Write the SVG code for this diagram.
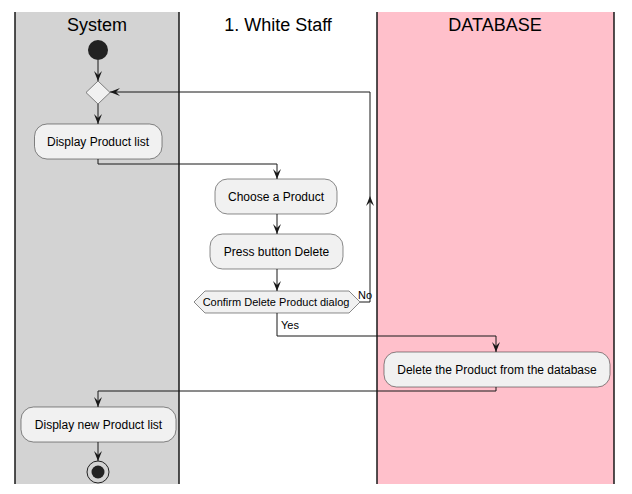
<svg xmlns="http://www.w3.org/2000/svg" width="632" height="494" viewBox="0 0 632 494">
<style>
.lane{stroke:#181818;stroke-width:1.5}
.hdr{font-family:"Liberation Sans",Arial,sans-serif;font-size:18px;fill:#000;text-anchor:middle}
.box{fill:#F1F1F1;stroke:#181818;stroke-width:0.5}
.t{font-family:"Liberation Sans",Arial,sans-serif;font-size:12px;fill:#000;text-anchor:middle}
.ts{font-family:"Liberation Sans",Arial,sans-serif;font-size:11px;fill:#000;text-anchor:middle}
.lbl{font-family:"Liberation Sans",Arial,sans-serif;font-size:11px;fill:#000}
.c{fill:none;stroke:#181818;stroke-width:1}
</style>
<defs>
<marker id="ah" viewBox="0 0 10 10" refX="10" refY="5" markerWidth="10" markerHeight="10" markerUnits="userSpaceOnUse" orient="auto">
<path d="M10,5 L0,1 L4,5 L0,9 Z" fill="#181818"/>
</marker>
</defs>
<rect width="632" height="494" fill="#FFFFFF"/>
<g id="lanes">
<rect x="15" y="12" width="164" height="472" fill="#D3D3D3"/>
<rect x="377" y="12" width="237" height="472" fill="#FFC0CB"/>
<line class="lane" x1="15" y1="12" x2="15" y2="484"/>
<line class="lane" x1="179" y1="12" x2="179" y2="484"/>
<line class="lane" x1="377" y1="12" x2="377" y2="484"/>
<line class="lane" x1="614" y1="12" x2="614" y2="484"/>
<text class="hdr" x="97" y="31">System</text>
<text class="hdr" x="278" y="31">1. White Staff</text>
<text class="hdr" x="495" y="31">DATABASE</text>
</g>
<g id="connectors">
<path class="c" d="M98,60 L98,81" marker-end="url(#ah)"/>
<path class="c" d="M98,104 L98,124" marker-end="url(#ah)"/>
<path class="c" d="M98,159 L98,164 L277,164 L277,179" marker-end="url(#ah)"/>
<path class="c" d="M277,214 L277,234" marker-end="url(#ah)"/>
<path class="c" d="M277,269 L277,291" marker-end="url(#ah)"/>
<path class="c" d="M360,302 L370,302 L370,196" marker-end="url(#ah)"/>
<path class="c" d="M370,196 L370,92 L110,92" marker-end="url(#ah)"/>
<text class="lbl" x="358" y="299">No</text>
<path class="c" d="M277,313 L277,336 L496,336 L496,352" marker-end="url(#ah)"/>
<text class="lbl" x="281" y="329">Yes</text>
<path class="c" d="M496,387 L496,391 L98,391 L98,407" marker-end="url(#ah)"/>
<path class="c" d="M98,442 L98,461" marker-end="url(#ah)"/>
</g>
<g id="start"><circle cx="98" cy="50" r="10" fill="#222222"/></g>
<g id="merge"><polygon points="98,81 110,92.5 98,104 86,92.5" fill="#F1F1F1" stroke="#181818" stroke-width="0.5"/></g>
<g id="display"><rect class="box" x="34.5" y="124" width="127.5" height="35" rx="12.5"/><text class="t" x="98" y="146">Display Product list</text></g>
<g id="choose"><rect class="box" x="215" y="179" width="122" height="35" rx="12.5"/><text class="t" x="276" y="201">Choose a Product</text></g>
<g id="press"><rect class="box" x="210" y="234" width="133" height="35" rx="12.5"/><text class="t" x="276.5" y="256">Press button Delete</text></g>
<g id="confirm"><polygon points="194,302 205,291 349,291 360,302 349,313 205,313" fill="#F1F1F1" stroke="#181818" stroke-width="0.5"/><text class="ts" x="276" y="306">Confirm Delete Product dialog</text></g>
<g id="delete"><rect class="box" x="384" y="352" width="226" height="35" rx="12.5"/><text class="t" x="497" y="374">Delete the Product from the database</text></g>
<g id="displaynew"><rect class="box" x="21" y="407" width="155" height="35" rx="12.5"/><text class="t" x="98.5" y="429">Display new Product list</text></g>
<g id="end"><circle cx="98" cy="472" r="11" fill="none" stroke="#222222" stroke-width="1"/><circle cx="98" cy="472" r="6.5" fill="#222222"/></g>
</svg>
